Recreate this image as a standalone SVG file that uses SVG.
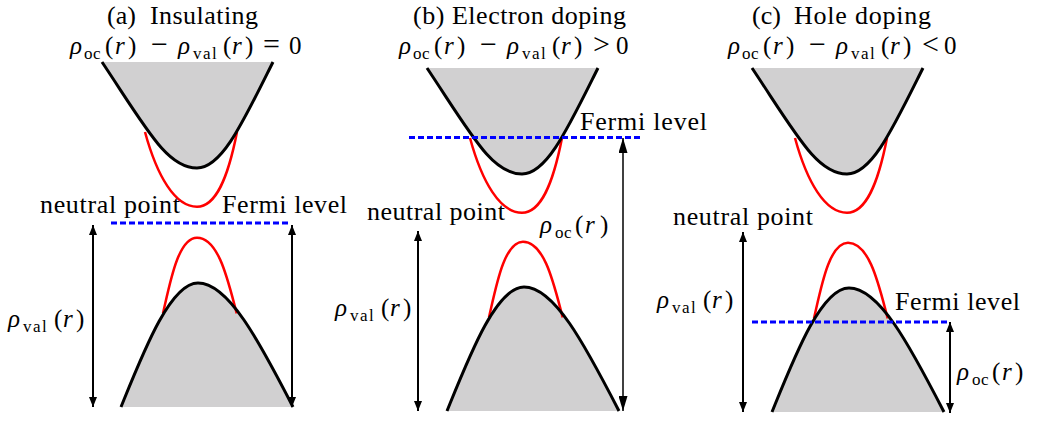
<svg xmlns="http://www.w3.org/2000/svg" width="1039" height="422" viewBox="0 0 1039 422">
<style>
.t{font-size:26px;fill:#000}
.m{font-size:25px;fill:#000}
.i{font-style:italic}
.mi{font-size:30px}
.s{font-size:17px;letter-spacing:0.5px}
.sv{font-size:17px;letter-spacing:1.5px}
.band{fill:#d1d0d1;stroke:none}
.blk{fill:none;stroke:#000;stroke-width:3;stroke-linecap:butt}
.red{fill:none;stroke:#f00;stroke-width:2.5}
.fermi{fill:none;stroke:#0000ff;stroke-width:3;stroke-dasharray:6 3}
.arr{fill:none;stroke:#000;stroke-width:2;marker-start:url(#ah);marker-end:url(#ah)}
.arr2{fill:none;stroke:#000;stroke-width:1.5;marker-start:url(#ah2);marker-end:url(#ah2)}
</style>
<defs>
<path id="ubc" d="M-95,-106 C-50,-38.5 -30,0 0,0 C25,0 46,-46 76,-106"/>
<path id="ubf" d="M-95,-106 C-50,-38.5 -30,0 0,0 C25,0 46,-46 76,-106 Z"/>
<path id="urc" d="M-52,-36 C-40,8 -22,38.7 0,38.7 C19,38.7 31,10 40,-36"/>
<path id="lbc" d="M-77,124 C-55,70 -28,0 0,0 C30,0 60,56 95,124"/>
<path id="lbf" d="M-77,124 C-55,70 -28,0 0,0 C30,0 60,56 95,124 Z"/>
<path id="lrc" d="M-35,30.3 C-28,0 -20,-45.3 -1,-45.3 C21.2,-45.3 30.5,0 38.7,30.3"/>
<marker id="ah" viewBox="0 0 10 8" refX="10" refY="4" markerWidth="10" markerHeight="8" markerUnits="userSpaceOnUse" orient="auto-start-reverse"><path d="M0,0L10,4L0,8z" fill="#000"/></marker>
<marker id="ah2" viewBox="0 0 15 9" refX="15" refY="4.5" markerWidth="15" markerHeight="9" markerUnits="userSpaceOnUse" orient="auto-start-reverse"><path d="M0,0L15,4.5L0,9z" fill="#000"/></marker>
</defs>

<g id="panel-a">
  <g id="a-conduction">
    <use href="#ubf" class="band" transform="translate(197,168)"/>
    <use href="#urc" class="red" transform="translate(197,168)"/>
    <use href="#ubc" class="blk" transform="translate(197,168)"/>
  </g>
  <g id="a-valence">
    <use href="#lbf" class="band" transform="translate(198,283)"/>
    <use href="#lrc" class="red" transform="translate(198,283)"/>
    <use href="#lbc" class="blk" transform="translate(198,283)"/>
  </g>
  <g id="a-fermi"><line class="fermi" x1="111" y1="223" x2="291" y2="223"/></g>
  <g id="a-labels" font-family="Liberation Serif, Times New Roman, serif">
    <text class="t" y="24"><tspan x="107">(a)</tspan><tspan x="150" textLength="108">Insulating</tspan></text>
    <text class="m"><tspan class="i" x="70" y="54">ρ</tspan><tspan class="s" x="84" y="59">oc</tspan><tspan x="105" y="54">(</tspan><tspan class="i" x="115" y="54">r</tspan><tspan x="128" y="54">)</tspan><tspan class="mi" x="151" y="54">−</tspan><tspan class="i" x="178" y="54">ρ</tspan><tspan class="sv" x="193" y="59">val</tspan><tspan x="223" y="54">(</tspan><tspan class="i" x="232" y="54">r</tspan><tspan x="245" y="54">)</tspan><tspan class="mi" x="263" y="54">=</tspan><tspan x="289" y="54">0</tspan></text>
    <text class="t" x="40" y="213" textLength="140">neutral point</text>
    <text class="t" x="222" y="213" textLength="125">Fermi level</text>
    <text class="m"><tspan class="i" x="8" y="327">ρ</tspan><tspan class="sv" x="23" y="332">val</tspan><tspan x="54" y="327">(</tspan><tspan class="i" x="63" y="327">r</tspan><tspan x="76" y="327">)</tspan></text>
  </g>
</g>

<g id="panel-b">
  <g id="b-conduction">
    <use href="#ubf" class="band" transform="translate(522,174)"/>
    <use href="#urc" class="red" transform="translate(522,174)"/>
    <use href="#ubc" class="blk" transform="translate(522,174)"/>
  </g>
  <g id="b-valence">
    <use href="#lbf" class="band" transform="translate(524,287)"/>
    <use href="#lrc" class="red" transform="translate(524,287)"/>
    <use href="#lbc" class="blk" transform="translate(524,287)"/>
  </g>
  <g id="b-fermi"><line class="fermi" x1="409" y1="137.5" x2="643" y2="137.5"/></g>
  <g id="b-labels" font-family="Liberation Serif, Times New Roman, serif">
    <text class="t" x="413" y="24" textLength="213">(b) Electron doping</text>
    <text class="m"><tspan class="i" x="399" y="54">ρ</tspan><tspan class="s" x="413" y="59">oc</tspan><tspan x="434" y="54">(</tspan><tspan class="i" x="444" y="54">r</tspan><tspan x="457" y="54">)</tspan><tspan class="mi" x="480" y="54">−</tspan><tspan class="i" x="507" y="54">ρ</tspan><tspan class="sv" x="522" y="59">val</tspan><tspan x="552" y="54">(</tspan><tspan class="i" x="561" y="54">r</tspan><tspan x="574" y="54">)</tspan><tspan class="mi" x="593" y="54">&gt;</tspan><tspan x="616" y="54">0</tspan></text>
    <text class="t" x="580" y="130" textLength="127">Fermi level</text>
    <text class="t" x="367" y="220" textLength="138">neutral point</text>
    <text class="m"><tspan class="i" x="540" y="233">ρ</tspan><tspan class="s" x="555" y="238">oc</tspan><tspan x="575" y="233">(</tspan><tspan class="i" x="585" y="233">r</tspan><tspan x="600" y="233">)</tspan></text>
    <text class="m"><tspan class="i" x="335" y="316">ρ</tspan><tspan class="sv" x="350" y="321">val</tspan><tspan x="381" y="316">(</tspan><tspan class="i" x="390" y="316">r</tspan><tspan x="403" y="316">)</tspan></text>
  </g>
</g>

<g id="panel-c">
  <g id="c-conduction">
    <use href="#ubf" class="band" transform="translate(847,174)"/>
    <use href="#urc" class="red" transform="translate(847,174)"/>
    <use href="#ubc" class="blk" transform="translate(847,174)"/>
  </g>
  <g id="c-valence">
    <use href="#lbf" class="band" transform="translate(849,288)"/>
    <use href="#lrc" class="red" transform="translate(849,288)"/>
    <use href="#lbc" class="blk" transform="translate(849,288)"/>
  </g>
  <g id="c-fermi"><line class="fermi" x1="752" y1="322" x2="947" y2="322"/></g>
  <g id="c-labels" font-family="Liberation Serif, Times New Roman, serif">
    <text class="t" y="24"><tspan x="752">(c)</tspan><tspan x="794" textLength="137">Hole doping</tspan></text>
    <text class="m"><tspan class="i" x="728" y="54">ρ</tspan><tspan class="s" x="742" y="59">oc</tspan><tspan x="763" y="54">(</tspan><tspan class="i" x="773" y="54">r</tspan><tspan x="786" y="54">)</tspan><tspan class="mi" x="809" y="54">−</tspan><tspan class="i" x="836" y="54">ρ</tspan><tspan class="sv" x="851" y="59">val</tspan><tspan x="881" y="54">(</tspan><tspan class="i" x="890" y="54">r</tspan><tspan x="903" y="54">)</tspan><tspan class="mi" x="922" y="54">&lt;</tspan><tspan x="944" y="54">0</tspan></text>
    <text class="t" x="673" y="225" textLength="140">neutral point</text>
    <text class="t" x="895" y="310" textLength="125">Fermi level</text>
    <text class="m"><tspan class="i" x="657" y="308">ρ</tspan><tspan class="sv" x="672" y="313">val</tspan><tspan x="703" y="308">(</tspan><tspan class="i" x="712" y="308">r</tspan><tspan x="725" y="308">)</tspan></text>
    <text class="m"><tspan class="i" x="957" y="380">ρ</tspan><tspan class="s" x="972" y="385">oc</tspan><tspan x="992" y="380">(</tspan><tspan class="i" x="1002" y="380">r</tspan><tspan x="1015" y="380">)</tspan></text>
  </g>
</g>

<g id="connectors">
  <line class="arr" x1="93" y1="225" x2="93" y2="407"/>
  <line class="arr" x1="292" y1="225" x2="292" y2="407"/>
  <line class="arr" x1="418" y1="231" x2="418" y2="411"/>
  <line class="arr2" x1="623" y1="138" x2="623" y2="411"/>
  <line class="arr" x1="743" y1="232" x2="743" y2="412"/>
  <line class="arr" x1="950" y1="322" x2="950" y2="413"/>
</g>
</svg>
